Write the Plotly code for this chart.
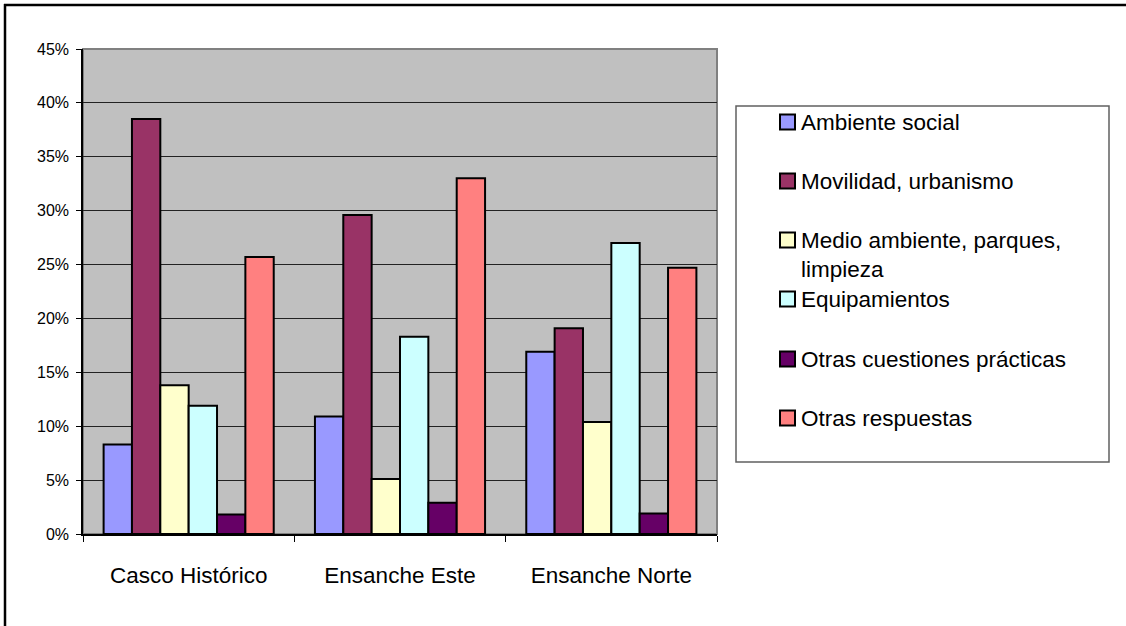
import plotly.graph_objects as go

categories = ["Casco Histórico", "Ensanche Este", "Ensanche Norte"]
series_names = ["Ambiente social", "Movilidad, urbanismo", "Medio ambiente, parques,<br>limpieza",
                "Equipamientos", "Otras cuestiones prácticas", "Otras respuestas"]
ambiente_social = [8.3, 10.9, 16.9]
movilidad_urbanismo = [38.5, 29.6, 19.1]
medio_ambiente = [13.8, 5.1, 10.4]
equipamientos = [11.9, 18.3, 27.0]
otras_cuestiones = [1.8, 2.9, 1.9]
otras_respuestas = [25.7, 33.0, 24.7]
y_ticks = [0, 5, 10, 15, 20, 25, 30, 35, 40, 45]

colors = ["#9999FF", "#993366", "#FFFFCC", "#CCFFFF", "#660066", "#FF8080"]
values = [ambiente_social, movilidad_urbanismo, medio_ambiente, equipamientos, otras_cuestiones, otras_respuestas]

W, H = 1126, 626
L, R, T, B = 83, 717, 49, 534
FONT = "Liberation Sans, Arial, sans-serif"
BIG = 22.5


def px(x):
    return (x - L) / (R - L)


def py(y):
    return (B - y) / (B - T)


fig = go.Figure()
for name, vals, col in zip(series_names, values, colors):
    fig.add_trace(go.Bar(x=categories, y=vals, name=name.replace("<br>", " "),
                         marker=dict(color=col, line=dict(color="black", width=2)),
                         showlegend=False))

shapes = []
# plot area border (gray)
shapes.append(dict(type="rect", xref="paper", yref="paper", x0=0, x1=1, y0=0, y1=1,
                   line=dict(color="#808080", width=2), layer="below"))
# outer frame (left and top)
shapes.append(dict(type="line", xref="paper", yref="paper", x0=px(5), x1=px(5), y0=py(4), y1=py(630),
                   line=dict(color="black", width=2.5)))
shapes.append(dict(type="line", xref="paper", yref="paper", x0=px(4), x1=px(1130), y0=py(5), y1=py(5),
                   line=dict(color="black", width=2.5)))
# legend box
shapes.append(dict(type="rect", xref="paper", yref="paper", x0=px(736), x1=px(1109), y0=py(462), y1=py(106),
                   line=dict(color="#606060", width=1.5), fillcolor="white"))

annotations = []
item_y = [122, 181, 240, 299, 359, 418]
for name, col, yc in zip(series_names, colors, item_y):
    shapes.append(dict(type="rect", xref="paper", yref="paper", x0=px(780), x1=px(795),
                       y0=py(yc + 7.5), y1=py(yc - 7.5), fillcolor=col, line=dict(color="black", width=2)))
    if "<br>" in name:
        annotations.append(dict(xref="paper", yref="paper", x=px(799), y=py(yc - 14), text=name,
                                showarrow=False, xanchor="left", yanchor="top", align="left",
                                font=dict(family=FONT, size=BIG, color="black")))
    else:
        annotations.append(dict(xref="paper", yref="paper", x=px(799), y=py(yc), text=name,
                                showarrow=False, xanchor="left", yanchor="middle", align="left",
                                font=dict(family=FONT, size=BIG, color="black")))

fig.update_layout(
    width=W, height=H,
    margin=dict(l=L, r=W - R, t=T, b=H - B, pad=0),
    paper_bgcolor="white", plot_bgcolor="#C0C0C0",
    barmode="group", bargap=0.195, bargroupgap=0,
    showlegend=False,
    shapes=shapes, annotations=annotations,
    font=dict(family=FONT, color="black"),
)
fig.update_xaxes(showline=True, linecolor="black", linewidth=1.5, ticks="outside", tickson="boundaries",
                 ticklen=6, tickcolor="black", tickfont=dict(size=BIG, family=FONT),
                 ticklabelstandoff=20, showgrid=False)
fig.update_yaxes(range=[0, 45], tickvals=y_ticks, ticktext=[f"{v}%" for v in y_ticks],
                 showline=True, linecolor="black", linewidth=1.5, ticks="outside", ticklen=5,
                 tickcolor="black", tickfont=dict(size=16, family=FONT), ticklabelstandoff=4,
                 showgrid=True, gridcolor="#222222", gridwidth=1, zeroline=False)

fig.write_html("out.html", config={"displayModeBar": False},
               post_script="document.body.style.margin='0';document.body.style.overflow='hidden';")
